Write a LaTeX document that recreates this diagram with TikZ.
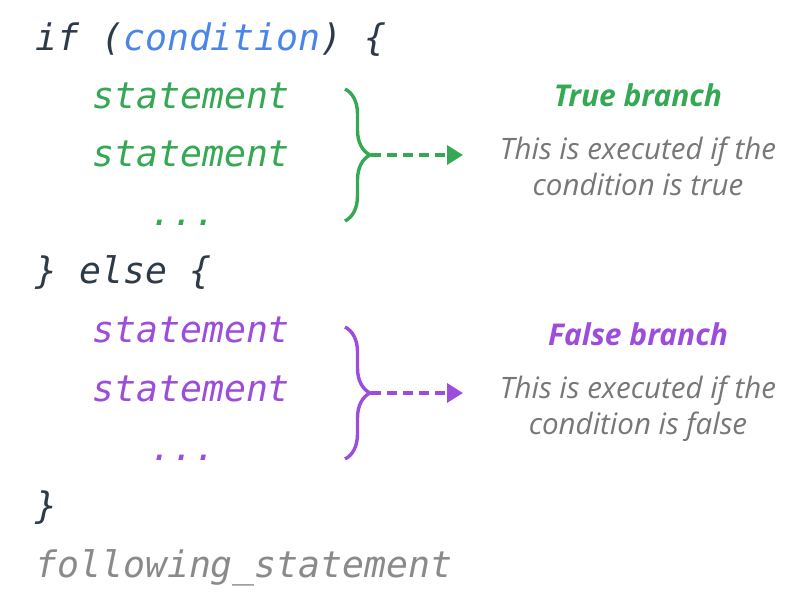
\documentclass[tikz,border=0pt]{standalone}
\usepackage{fontspec}
\setmainfont{Open Sans}
\newfontfamily\codefont{DejaVu Sans Mono Oblique}
\usepackage{xcolor}
\usetikzlibrary{positioning,decorations.pathreplacing,arrows.meta}

\definecolor{kwdark}{HTML}{2E3A48}
\definecolor{condblue}{HTML}{4A86E8}
\definecolor{truegreen}{HTML}{34A853}
\definecolor{falsepurple}{HTML}{9C4DDB}
\definecolor{descgray}{HTML}{777777}
\definecolor{aftergray}{HTML}{8A8A8A}

\begin{document}
\begin{tikzpicture}[
  x=1pt, y=-1pt,
  code/.style={anchor=base west, inner sep=0pt, font=\codefont\fontsize{36.5}{40}\selectfont},
  head/.style={anchor=base, inner sep=0pt, font=\bfseries\itshape\fontsize{30}{34}\selectfont},
  desc/.style={align=center, inner sep=0pt, text=descgray, font=\itshape\fontsize{29.5}{36}\selectfont},
  bracket/.style={line width=3.4pt, decorate, decoration={brace, amplitude=25pt}},
  dasharrow/.style={line width=3.4pt, dash pattern=on 10pt off 6pt, -{Triangle[length=16pt,width=19pt]}},
  node distance=12pt
]
\useasboundingbox (0,0) rectangle (799,602);

% code lines
\node[code, text=kwdark] (ifline) at (35,50) {if (\textcolor{condblue}{condition}) \{};
\node[code, text=truegreen] (tstmta) at (92,108) {statement};
\node[code, text=truegreen] (tstmtb) at (92,166) {statement};
\node[code, text=truegreen] (tdots) at (150,225) {...};
\node[code, text=kwdark] (elseline) at (35,283) {\} else \{};
\node[code, text=falsepurple] (fstmta) at (92,342) {statement};
\node[code, text=falsepurple] (fstmtb) at (92,401) {statement};
\node[code, text=falsepurple] (fdots) at (150,460) {...};
\node[code, text=kwdark] (closeline) at (35,518) {\}};
\node[code, text=aftergray] (afterline) at (35,577) {following\_statement};

% true branch
\coordinate (ttop) at (345,89);
\coordinate (tbot) at (345,221);
\coordinate (ttip) at (371,155);
\coordinate (tend) at (463,155);
\draw[bracket, truegreen] (ttop) -- (tbot);
\draw[dasharrow, truegreen] (ttip) -- (tend);
\node[head, text=truegreen] (thead) at (638,106) {True branch};
\node[desc, below=30pt of thead] (tdesc) {This is executed if the\\condition is true};

% false branch
\coordinate (ftop) at (345,327);
\coordinate (fbot) at (345,459);
\coordinate (ftip) at (371,393);
\coordinate (fend) at (463,393);
\draw[bracket, falsepurple] (ftop) -- (fbot);
\draw[dasharrow, falsepurple] (ftip) -- (fend);
\node[head, text=falsepurple] (fhead) at (638,345) {False branch};
\node[desc, below=30pt of fhead] (fdesc) {This is executed if the\\condition is false};
\end{tikzpicture}
\end{document}
